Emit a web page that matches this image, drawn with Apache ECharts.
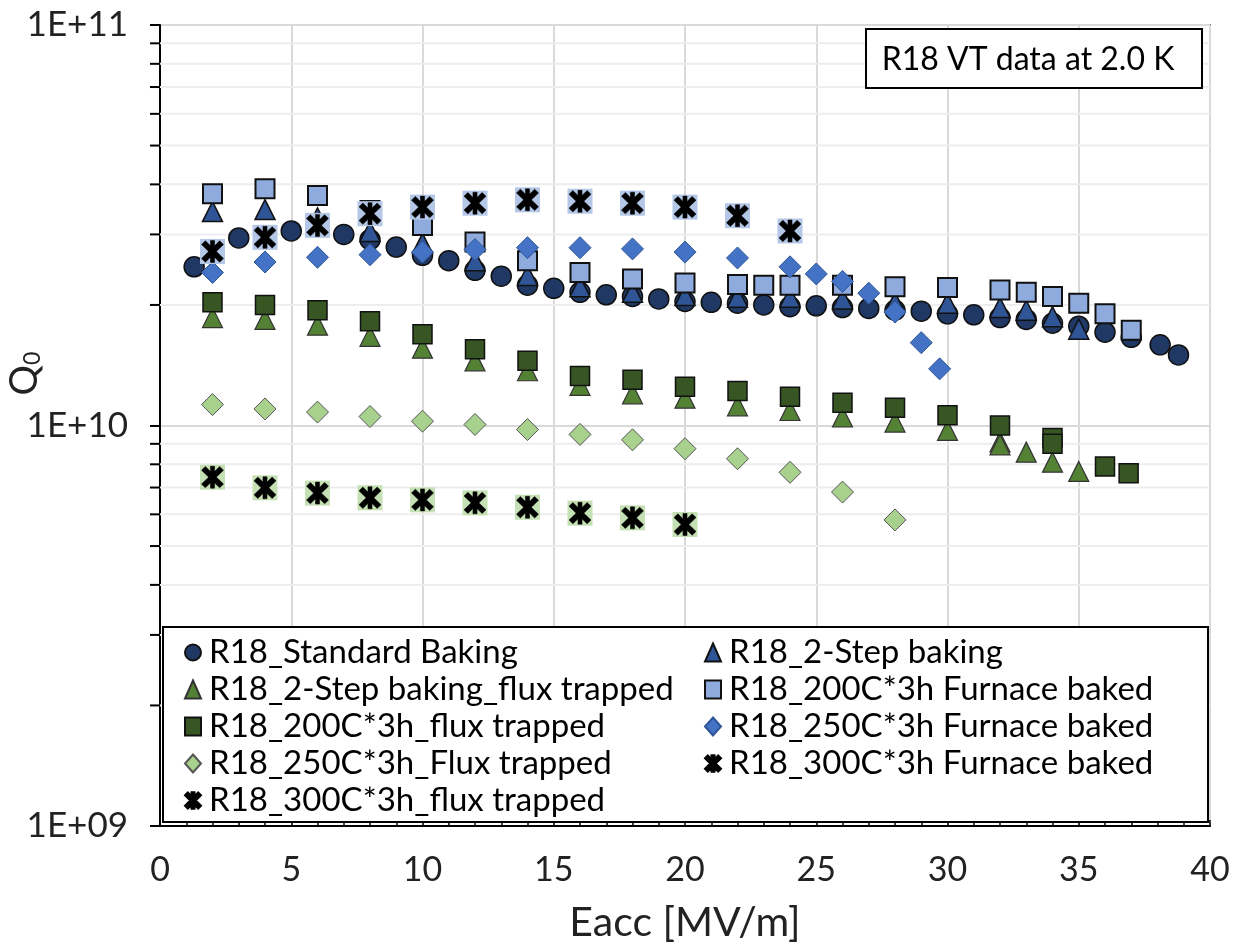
<!DOCTYPE html>
<html>
<head>
<meta charset="utf-8">
<script src="https://cdn.jsdelivr.net/npm/echarts@6/dist/echarts.min.js"></script>
<style>html,body{margin:0;padding:0;background:#fff}#c{width:1242px;height:952px}</style>
</head>
<body>
<div id="c"></div>
<script>
// ---- data (Q0 in units of 1e10) ----
const stdX = [1.3,3,5,7,8,9,10,11,12,13,14,15,16,17,18,19,20,21,22,23,24,25,26,27,28,29,30,31,32,33,34,35,36,37,38.1,38.8];
const stdQ = [2.49,2.94,3.06,3.0,2.91,2.79,2.66,2.58,2.44,2.36,2.24,2.20,2.15,2.12,2.10,2.07,2.04,2.03,2.02,2.0,1.98,1.99,1.97,1.96,1.94,1.93,1.90,1.89,1.86,1.84,1.80,1.77,1.71,1.66,1.59,1.50];
const twoX = [2,4,6,8,10,12,14,16,18,20,22,24,26,28,30,32,33,34,35];
const twoQ = [3.42,3.46,3.3,3.05,2.85,2.58,2.37,2.22,2.15,2.11,2.09,2.09,2.07,2.03,2.02,1.97,1.94,1.87,1.74];
const twoFluxX = [2,4,6,8,10,12,14,16,18,20,22,24,26,28,30,32,32,33,34,35];
const twoFluxQ = [1.86,1.84,1.78,1.67,1.56,1.45,1.37,1.26,1.20,1.17,1.12,1.09,1.05,1.02,0.972,0.91,0.895,0.858,0.81,0.768];
const f200FluxX = [2,4,6,8,10,12,14,16,18,20,22,24,26,28,30,32,34,34,36,36.9];
const f200FluxQ = [2.03,2.0,1.94,1.82,1.69,1.55,1.45,1.33,1.30,1.25,1.22,1.18,1.14,1.107,1.06,1.0,0.93,0.90,0.79,0.76];
const f200X = [2,4,6,8,10,12,14,16,18,20,22,23,24,26,28,30,32,33,34,35,36,37];
const f200Q = [3.79,3.90,3.75,3.44,3.16,2.87,2.58,2.41,2.32,2.27,2.25,2.24,2.24,2.24,2.22,2.21,2.18,2.15,2.10,2.02,1.90,1.73];
const f250X = [2,4,6,8,10,12,14,16,18,20,22,24,25,26,27,28,29,29.7];
const f250Q = [2.41,2.56,2.63,2.67,2.71,2.75,2.78,2.78,2.76,2.71,2.62,2.49,2.39,2.29,2.14,1.92,1.61,1.385];
const f250FluxX = [2,4,6,8,10,12,14,16,18,20,22,24,26,28];
const f250FluxQ = [1.128,1.10,1.08,1.053,1.025,1.006,0.977,0.95,0.921,0.875,0.826,0.764,0.682,0.581];
const f300X = [2,4,6,8,10,12,14,16,18,20,22,24];
const f300Q = [2.72,2.95,3.16,3.38,3.51,3.59,3.66,3.63,3.59,3.51,3.34,3.06];
const f300FluxX = [2,4,6,8,10,12,14,16,18,20];
const f300FluxQ = [0.743,0.699,0.678,0.66,0.652,0.641,0.625,0.604,0.588,0.566];

const names = ['R18_Standard Baking','R18_2-Step baking','R18_2-Step baking_flux trapped','R18_200C*3h Furnace baked',
  'R18_200C*3h_flux trapped','R18_250C*3h Furnace baked','R18_250C*3h_Flux trapped','R18_300C*3h Furnace baked','R18_300C*3h_flux trapped'];
const minorVals = [2,3,4,5,6,7,8,9].map(m=>m*1e9).concat([2,3,4,5,6,7,8,9].map(m=>m*1e10));
const xTitle = 'Eacc [MV/m]';
const boxText = 'R18 VT data at 2.0 K';

const pts = (xs, qs) => xs.map((x,i)=>[x, qs[i]*1e10]);
const FONT = 'Lato';
// filled "star" (X plus vertical bar) marker, union of three bars
const STAR = 'path://M4.1,0 L5.9,0 L5.9,10 L4.1,10 Z ' +
  'M1.85,0.15 L9.85,8.15 L8.15,9.85 L0.15,1.85 Z ' +
  'M8.15,0.15 L9.85,1.85 L1.85,9.85 L0.15,8.15 Z';

function sc(name, data, symbol, size, fill, border, bw, z){
  return {type:'scatter', name, data, symbol, symbolSize:size, z,
    itemStyle:{color:fill, borderColor:border, borderWidth:bw, opacity:1}};
}

const series = [
  {type:'custom', name:'_minor', z:1, clip:false, silent:true,
    data: minorVals.map(v=>[0,v]),
    renderItem:(p, api)=>{
      const v = api.value(1);
      const a = api.coord([0, v]), b = api.coord([40, v]);
      return {type:'group', children:[
        {type:'line', shape:{x1:a[0], y1:a[1], x2:b[0], y2:b[1]}, style:{stroke:'#EDEDED', lineWidth:2}},
        {type:'line', shape:{x1:a[0]-10, y1:a[1], x2:a[0], y2:a[1]}, style:{stroke:'#000', lineWidth:2}}
      ]};
    }},
  sc(names[0], pts(stdX,stdQ), 'circle', 20, '#1F3864', '#111', 1.5, 3),
  sc(names[1], pts(twoX,twoQ), 'triangle', 20, '#2F5597', '#111', 1.5, 4),
  sc(names[2], pts(twoFluxX,twoFluxQ), 'triangle', 20, '#548235', '#333', 1.2, 5),
  sc(names[4], pts(f200FluxX,f200FluxQ), 'rect', 19, '#375623', '#111', 1.5, 6),
  sc(names[3], pts(f200X,f200Q), 'rect', 19, '#8FAADC', '#111', 2, 7),
  sc(names[5], pts(f250X,f250Q), 'diamond', 22, '#4472C4', '#2F5597', 1, 8),
  sc(names[6], pts(f250FluxX,f250FluxQ), 'diamond', 22, '#A9D18E', '#555', 1, 9),
  sc('_bg300', pts(f300X,f300Q), 'rect', 25, '#B4C7E7', '#B4C7E7', 0, 10),
  sc(names[7], pts(f300X,f300Q), STAR, 22, '#000', '#000', 0.5, 11),
  sc('_bg300flux', pts(f300FluxX,f300FluxQ), 'rect', 25, '#C5E0B4', '#C5E0B4', 0, 12),
  sc(names[8], pts(f300FluxX,f300FluxQ), STAR, 22, '#000', '#000', 0.5, 13)
];

const legendBase = {orient:'vertical', itemWidth:16, itemHeight:18, itemGap:4, z:20,
  textStyle:{fontFamily:FONT, fontSize:33, color:'#000', lineHeight:33, padding:[0,0,0,3]}};

const chart = echarts.init(document.getElementById('c'), null, {renderer:'canvas'});
chart.setOption({
  animation:false,
  backgroundColor:'#fff',
  grid:{left:160, right:32, top:25, bottom:126, outerBoundsMode:'none', containLabel:false,
    show:true, borderColor:'#000', borderWidth:1.5, backgroundColor:'transparent'},
  xAxis:{type:'value', min:0, max:40, interval:5,
    name:xTitle, nameLocation:'middle', nameGap:76, nameMoveOverlap:false,
    nameTextStyle:{fontFamily:FONT, fontSize:41, color:'#222'},
    axisLine:{show:true, lineStyle:{color:'#000', width:2}},
    axisTick:{show:true, inside:true, length:6, lineStyle:{color:'#000', width:1.5}},
    minorTick:{show:true, splitNumber:5, length:5, lineStyle:{color:'#000', width:1.5}},
    axisLabel:{fontFamily:FONT, fontSize:34, color:'#222', margin:27},
    splitLine:{show:true, lineStyle:{color:'#D9D9D9', width:2}}},
  yAxis:{type:'log', logBase:10, min:1e9, max:1e11,
    name:'{q|Q}{s|0}', nameLocation:'middle', nameGap:116, nameMoveOverlap:false,
    nameTextStyle:{fontFamily:FONT, color:'#222', padding:[0,0,0,104],
      rich:{q:{fontFamily:FONT, fontSize:38, color:'#222'}, s:{fontFamily:FONT, fontSize:23, color:'#222', padding:[16,0,0,0]}}},
    axisLine:{show:true, lineStyle:{color:'#000', width:2}},
    axisTick:{show:true, inside:false, length:10, lineStyle:{color:'#000', width:2}},
    axisLabel:{fontFamily:FONT, fontSize:35, color:'#222', margin:32,
      formatter:v=>{const e=Math.round(Math.log10(v)); return '1E+'+(e<10?'0'+e:e);}},
    splitLine:{show:true, lineStyle:{color:'#D9D9D9', width:2}}},
  legend:[
    Object.assign({}, legendBase, {left:179, top:631, data:[names[0],names[2],names[4],names[6],names[8]]}),
    Object.assign({}, legendBase, {left:699, top:631, data:[names[1],names[3],names[5],names[7]]})
  ],
  graphic:[
    {type:'rect', z:15, shape:{x:163, y:627, width:1045, height:195}, style:{fill:'#fff', stroke:'#000', lineWidth:2}},
    {type:'rect', z:15, shape:{x:866, y:29, width:336, height:59}, style:{fill:'#fff', stroke:'#000', lineWidth:2}},
    {type:'text', z:16, x:1028, y:60, style:{text:boxText, fontFamily:FONT, fontSize:32, fill:'#000', align:'center', verticalAlign:'middle'}}
  ],
  series
});
</script>
</body>
</html>
